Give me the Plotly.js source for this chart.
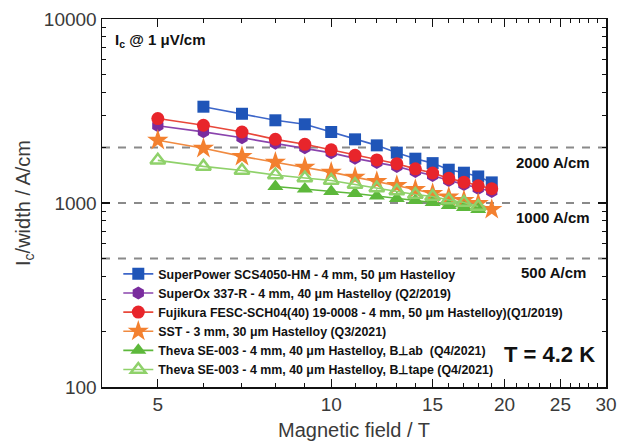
<!DOCTYPE html>
<html>
<head>
<meta charset="utf-8">
<script src="https://cdn.plot.ly/plotly-3.0.1.min.js"></script>
<style>html,body{margin:0;padding:0;background:#fff;}#chart{width:619px;height:441px;}</style>
</head>
<body>
<div id="chart"></div>
<script>
// Data (field in T, Ic/width in A/cm)
const fieldSP = [6,7,8,9,10,11,12,13,14,15,16,17,18,19];
const icSP = [3337,3055,2815,2678,2432,2218,2057,1878,1741,1647,1517,1461,1394,1294];

const field5to19 = [5,6,7,8,9,10,11,12,13,14,15,16,17,18,19];
const icSuperOx = [2628,2436,2261,2110,1994,1873,1748,1662,1581,1485,1412,1327,1262,1200,1155];
const icFujikura = [2877,2645,2432,2218,2084,1945,1815,1715,1636,1533,1456,1361,1298,1239,1195];
const icSST = [2191,1982,1792,1668,1567,1472,1382,1309,1246,1185,1127,1079,1032,994,922];

const fieldThevaAb = [8,9,10,11,12,13,14,15,16,17,18];
const icThevaAb = [1230,1192,1155,1126,1092,1058,1032,1006,969,945,922];

const fieldThevaTape = [5,6,7,8,9,10,11,12,13,14,15,16,17,18];
const icThevaTape = [1705,1581,1503,1420,1368,1325,1260,1207,1162,1112,1085,1038,1006,957];

const refLevels = [2000, 1000, 500];
const refLabels = ['2000 A/cm', '1000 A/cm', '500 A/cm'];
const xRange = [4, 30];
const xTickVals = [5,10,15,20,25,30];
const yTickVals = [100,1000,10000];

const names = [
  'SuperPower SCS4050-HM - 4 mm, 50 μm Hastelloy',
  'SuperOx 337-R - 4 mm, 40 μm Hastelloy (Q2/2019)',
  'Fujikura FESC-SCH04(40) 19-0008 - 4 mm, 50 μm Hastelloy)(Q1/2019)',
  'SST - 3 mm, 30 μm Hastelloy (Q3/2021)',
  'Theva SE-003 - 4 mm, 40 μm Hastelloy, B⊥ab  (Q4/2021)',
  'Theva SE-003 - 4 mm, 40 μm Hastelloy, B⊥tape (Q4/2021)'
];

const traces = [];
// reference dashed lines
refLevels.forEach(v => {
  traces.push({x: xRange, y: [v, v], mode: 'lines', showlegend: false, hoverinfo: 'skip',
    line: {color: '#8a8a8a', width: 2, dash: '8px,8px'}});
});

function series(x, y, name, color, lineColor, symbol, size, mline) {
  return {x: x, y: y, name: '<b>' + name + '</b>', mode: 'lines+markers',
    line: {color: lineColor, width: 1.6},
    marker: {symbol: symbol, size: size, color: color, line: mline || {width: 0}}};
}
traces.push(series(fieldSP, icSP, names[0], '#1f55b8', '#3d66c9', 'square', 12));
traces.push(series(field5to19, icSuperOx, names[1], '#7a2c9e', '#8a44ad', 'hexagon', 13));
traces.push(series(field5to19, icFujikura, names[2], '#e8252b', '#e8473a', 'circle', 13));
traces.push(series(field5to19, icSST, names[3], '#f3802f', '#f08a40', 'star', 16));
traces.push(series(fieldThevaAb, icThevaAb, names[4], '#5db83b', '#5db83b', 'triangle-up', 14));
traces.push(series(fieldThevaTape, icThevaTape, names[5], '#8fd16a', '#8fd16a', 'triangle-up-open', 13, {color: '#7cc655', width: 2.5}));

const px = v => (v - 101.7) / 504;
const py = v => (386.7 - v) / 367.7;

const bold = 'Liberation Sans, Arial, sans-serif';
const annotations = [
  {text: '<b>I<sub>c</sub> @ 1 μV/cm</b>', x: px(113), y: py(40), xanchor: 'left', yanchor: 'middle', font: {size: 15, color: '#111', family: bold}},
  {text: '<b>T = 4.2 K</b>', x: px(549), y: py(354), xanchor: 'center', yanchor: 'middle', font: {size: 22, color: '#111', family: bold}}
];
const labelY = [162, 217, 272];
refLabels.forEach((t, i) => {
  annotations.push({text: '<b>' + t + '</b>', x: px(553), y: py(labelY[i]), xanchor: 'center', yanchor: 'middle', font: {size: 15, color: '#111', family: bold}});
});
annotations.forEach(a => { a.xref = 'paper'; a.yref = 'paper'; a.showarrow = false; });

const minorX = [];
for (let i = 4; i <= 29; i++) if (xTickVals.indexOf(i) < 0) minorX.push(i);
const minorY = [];
[100, 1000].forEach(d => { for (let k = 2; k <= 9; k++) minorY.push(k * d); });

const axisFont = {family: 'Liberation Sans, Arial, sans-serif', size: 19, color: '#3a3a3a'};

const layout = {
  width: 619, height: 441,
  margin: {l: 102, r: 13, t: 19, b: 54},
  paper_bgcolor: '#fff', plot_bgcolor: '#fff',
  showlegend: true,
  legend: {x: px(118), y: py(384), xanchor: 'left', yanchor: 'bottom', bgcolor: 'rgba(0,0,0,0)',
    font: {family: bold, size: 12.4, color: '#111'}, borderwidth: 0},
  xaxis: {type: 'log', range: [Math.log10(xRange[0]), Math.log10(xRange[1])],
    tickmode: 'array', tickvals: xTickVals, ticktext: xTickVals.map(String),
    ticks: 'inside', ticklen: 8, tickwidth: 1.3, tickcolor: '#111',
    showline: true, linecolor: '#111', linewidth: 1.5, mirror: 'ticks',
    showgrid: false, zeroline: false, tickfont: axisFont,
    minor: {tickmode: 'array', tickvals: minorX, ticks: 'inside', ticklen: 4, tickwidth: 1, tickcolor: '#111', showgrid: false},
    title: {text: 'Magnetic field / T', font: {family: 'Liberation Sans, Arial, sans-serif', size: 20, color: '#3a3a3a'}, standoff: 12},
    automargin: false},
  yaxis: {type: 'log', range: [2, 4],
    tickmode: 'array', tickvals: yTickVals, ticktext: yTickVals.map(String),
    ticks: 'inside', ticklen: 8, tickwidth: 1.3, tickcolor: '#111',
    showline: true, linecolor: '#111', linewidth: 1.5, mirror: 'ticks',
    showgrid: false, zeroline: false, tickfont: axisFont,
    minor: {tickmode: 'array', tickvals: minorY, ticks: 'inside', ticklen: 4, tickwidth: 1, tickcolor: '#111', showgrid: false},
    title: {text: 'I<sub>c</sub>/width / A/cm', font: {family: 'Liberation Sans, Arial, sans-serif', size: 20, color: '#3a3a3a'}, standoff: 8},
    automargin: false},
  annotations: annotations
};

Plotly.newPlot('chart', traces, layout, {staticPlot: true, displayModeBar: false});
</script>
</body>
</html>
